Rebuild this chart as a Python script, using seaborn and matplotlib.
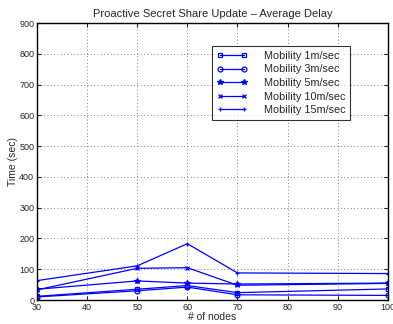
import matplotlib
matplotlib.use("Agg")
import matplotlib.pyplot as plt
import seaborn as sns
import pandas as pd

nodes = [30, 50, 60, 70, 100]
mob_1 = [12, 35, 47, 24, 36]
mob_3 = [10, 30, 42, 17, 15]
mob_5 = [35, 62, 55, 52, 55]
mob_10 = [33, 103, 105, 48, 54]
mob_15 = [63, 111, 183, 88, 86]
labels = ["Mobility 1m/sec", "Mobility 3m/sec", "Mobility 5m/sec",
          "Mobility 10m/sec", "Mobility 15m/sec"]
series = [mob_1, mob_3, mob_5, mob_10, mob_15]
markers = ["s", "o", "*", "x", "+"]

sns.set_style("ticks")
plt.rcParams['font.family'] = ['Liberation Sans', 'DejaVu Sans']

rows = []
for lab, vals in zip(labels, series):
    for n, v in zip(nodes, vals):
        rows.append({"nodes": n, "time": v, "series": lab})
df = pd.DataFrame(rows)

fig = plt.figure(figsize=(3.93, 3.24), dpi=100)
ax = fig.add_axes([0.094, 0.074, 0.893, 0.855])

for lab, m in zip(labels, markers):
    sub = df[df["series"] == lab]
    fill = m in ("s", "o")
    sns.lineplot(data=sub, x="nodes", y="time", ax=ax, color="#0000ff",
                 marker=m, markersize=3.5 if m != "*" else 4.0,
                 markerfacecolor="none" if fill else "#0000ff",
                 markeredgecolor="#0000ff", markeredgewidth=0.9,
                 linewidth=0.9, label=lab)

ax.set_xlim(30, 100)
ax.set_ylim(0, 900)
ax.set_xticks(range(30, 101, 10))
ax.set_yticks(range(0, 901, 100))
ax.tick_params(direction="in", labelsize=6.5, length=3, top=True, right=True, pad=2)
ax.grid(True, linestyle=(0, (1, 3)), color="#555555", linewidth=0.6)
for s in ax.spines.values():
    s.set_linewidth(1.0)
    s.set_color("black")
ax.set_xlabel("# of nodes", fontsize=7.5, labelpad=0)
ax.set_ylabel("Time (sec)", fontsize=7.5, labelpad=1)
ax.set_title("Proactive Secret Share Update \u2013 Average Delay", fontsize=8, pad=4)

leg = ax.legend(loc="upper left", bbox_to_anchor=(0.499, 0.917), fontsize=7.8,
                numpoints=2, frameon=True, fancybox=False, edgecolor="black",
                handlelength=2.8, labelspacing=0.33, borderpad=0.45,
                handletextpad=1.5, borderaxespad=0)
leg.get_frame().set_linewidth(0.8)

fig.savefig("out.png", dpi=100)
